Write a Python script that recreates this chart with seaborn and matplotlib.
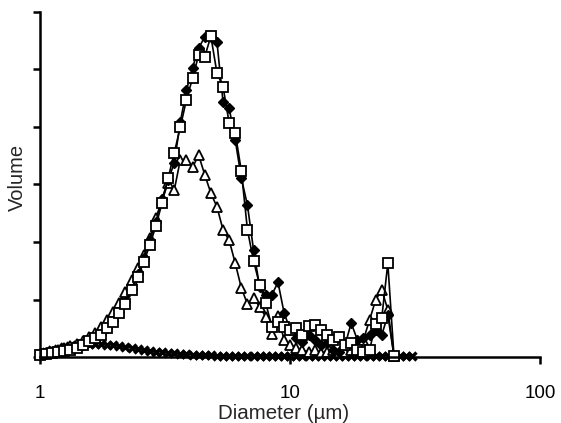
import matplotlib
matplotlib.use("Agg")
import matplotlib.pyplot as plt
import seaborn as sns
import pandas as pd

# Diameter bins (µm), log-spaced
diameter = [1.000, 1.058, 1.119, 1.184, 1.252, 1.324, 1.401, 1.482, 1.568, 1.658,
            1.754, 1.855, 1.963, 2.076, 2.196, 2.323, 2.457, 2.599, 2.750, 2.909,
            3.077, 3.255, 3.443, 3.642, 3.852, 4.075, 4.311, 4.560, 4.824, 5.103,
            5.398, 5.710, 6.040, 6.389, 6.758, 7.149, 7.562, 7.999, 8.462, 8.951,
            9.469, 10.02, 10.60, 11.21, 11.86, 12.54, 13.27, 14.04, 14.85, 15.71,
            16.61, 17.57, 18.59, 19.66, 20.80, 22.00, 23.28, 24.62, 26.05, 27.55,
            29.15, 30.83]

diamonds = [0.03, 0.05, 0.07, 0.09, 0.10, 0.14, 0.17, 0.21, 0.26, 0.33,
            0.40, 0.50, 0.63, 0.78, 0.96, 1.18, 1.44, 1.72, 2.03, 2.35,
            2.75, 3.08, 3.37, 4.09, 4.64, 5.03, 5.37, 5.57, 5.57, 5.48,
            4.43, 4.33, 3.77, 3.11, 2.64, 1.86, 1.22, 1.08, 1.08, 1.30,
            0.77, 0.47, 0.33, 0.26, 0.38, 0.30, 0.21, 0.24, 0.12, 0.09,
            0.21, 0.59, 0.30, 0.33, 0.38, 0.47, 0.38, 0.73, 0.02]

squares = [0.03, 0.05, 0.07, 0.09, 0.10, 0.12, 0.16, 0.21, 0.28, 0.33,
           0.38, 0.50, 0.61, 0.77, 0.92, 1.17, 1.39, 1.65, 1.95, 2.28,
           2.68, 3.11, 3.55, 4.00, 4.47, 4.85, 5.25, 5.22, 5.58, 4.94,
           4.70, 4.07, 3.90, 3.23, 2.21, 1.67, 1.25, 0.94, 0.52, 0.61,
           0.52, 0.47, 0.50, 0.38, 0.54, 0.56, 0.47, 0.38, 0.30, 0.35,
           0.21, 0.24, 0.12, 0.09, 0.12, 0.57, 0.68, 1.63, 0.02]

triangles = [0.05, 0.07, 0.09, 0.12, 0.16, 0.19, 0.23, 0.28, 0.35, 0.42,
             0.52, 0.64, 0.78, 0.94, 1.13, 1.34, 1.55, 1.77, 2.07, 2.42,
             2.73, 3.03, 2.90, 3.43, 3.43, 3.30, 3.51, 3.17, 2.85, 2.61,
             2.21, 2.03, 1.63, 1.20, 0.92, 1.03, 0.87, 0.70, 0.40, 0.71,
             0.30, 0.21, 0.16, 0.12, 0.09, 0.12, 0.07, 0.09, 0.12, 0.07,
             0.09, 0.12, 0.21, 0.30, 0.64, 0.99, 1.17, 0.82, 0.02]

crosses = [0.05, 0.09, 0.12, 0.14, 0.17, 0.19, 0.21, 0.23, 0.23, 0.23,
           0.23, 0.21, 0.21, 0.19, 0.17, 0.16, 0.14, 0.12, 0.10, 0.09,
           0.09, 0.07, 0.07, 0.05, 0.05, 0.03, 0.03, 0.03, 0.03, 0.02,
           0.02, 0.02, 0.02, 0.02, 0.02, 0.02, 0.02, 0.02, 0.02, 0.02,
           0.02, 0.02, 0.02, 0.02, 0.02, 0.02, 0.02, 0.02, 0.02, 0.02,
           0.02, 0.02, 0.02, 0.02, 0.02, 0.02, 0.02, 0.02, 0.02, 0.02,
           0.02, 0.02]

xticks = [1, 10, 100]
xtick_labels = ["1", "10", "100"]
yticks = [0, 1, 2, 3, 4, 5, 6]

sns.set_style("ticks")
plt.rcParams["font.family"] = ["Liberation Sans", "DejaVu Sans"]

fig = plt.figure(figsize=(5.61, 4.23), dpi=100)
ax = fig.add_axes([40 / 561, 1 - 357 / 423, 500 / 561, 345 / 423])

series = [
    (crosses, dict(marker="x", markersize=6, markeredgewidth=2.4,
                   markeredgecolor="black", markerfacecolor="black")),
    (triangles, dict(marker="^", markersize=7, markeredgewidth=1.3,
                     markeredgecolor="black", markerfacecolor="white")),
    (diamonds, dict(marker="D", markersize=5, markeredgewidth=1.0,
                    markeredgecolor="black", markerfacecolor="black")),
    (squares, dict(marker="s", markersize=6.5, markeredgewidth=1.3,
                   markeredgecolor="black", markerfacecolor="white")),
]

for vals, style in series:
    df = pd.DataFrame({"d": diameter[:len(vals)], "v": vals})
    sns.lineplot(data=df, x="d", y="v", ax=ax, color="black", lw=1.2,
                 sort=False, estimator=None, clip_on=False, **style)

ax.set_xscale("log")
ax.set_xlim(1, 100)
ax.set_ylim(0, 6)
ax.set_xticks(xticks)
ax.set_xticklabels(xtick_labels)
ax.minorticks_off()
ax.set_yticks(yticks)
ax.set_yticklabels([])

for s in ["top", "right"]:
    ax.spines[s].set_visible(False)
for s in ["left", "bottom"]:
    ax.spines[s].set_linewidth(1.8)
    ax.spines[s].set_color("black")

ax.tick_params(axis="both", direction="out", length=5, width=1.8,
               colors="black", labelsize=13.5)
ax.tick_params(axis="x", pad=15)

ax.set_xlabel("Diameter (µm)", fontsize=14.8, labelpad=0)
ax.xaxis.set_label_coords(0.488, -0.135)
ax.set_ylabel("Volume", fontsize=14.5, labelpad=0)
ax.yaxis.set_label_coords(-0.026, 0.52)

fig.savefig("out.png", dpi=100)
